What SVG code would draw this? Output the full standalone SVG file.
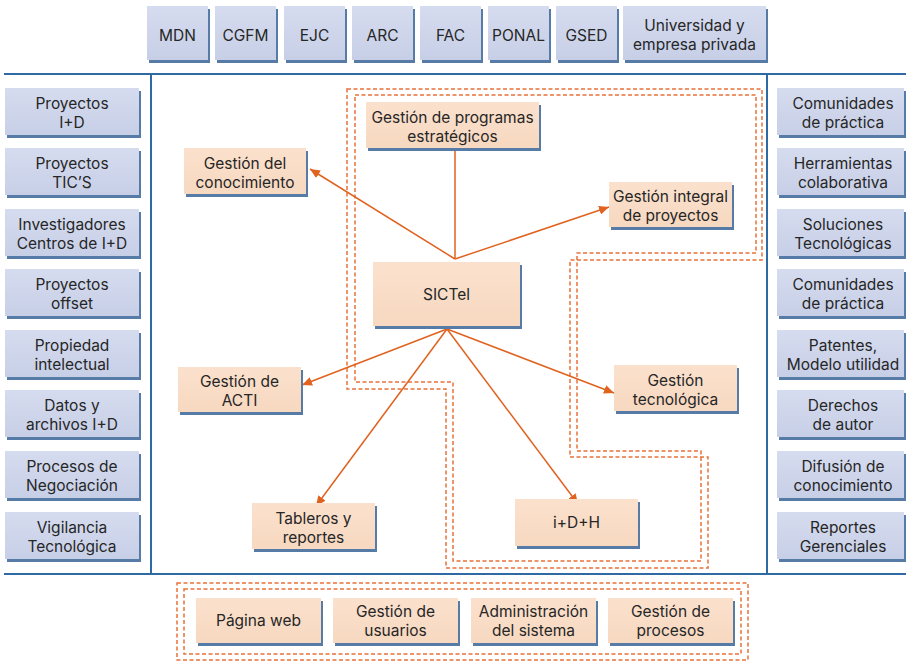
<svg xmlns="http://www.w3.org/2000/svg" width="906" height="661" viewBox="0 0 906 661">
  <defs>
    <linearGradient id="gBlue" x1="0" y1="0" x2="0" y2="1">
      <stop offset="0" stop-color="#d6dcef"/>
      <stop offset="1" stop-color="#c7cfe7"/>
    </linearGradient>
    <linearGradient id="gOrange" x1="0" y1="0" x2="0" y2="1">
      <stop offset="0" stop-color="#fbe1cd"/>
      <stop offset="1" stop-color="#f7d8c0"/>
    </linearGradient>
    <marker id="arrow" markerUnits="userSpaceOnUse" markerWidth="11" markerHeight="10" refX="10" refY="5" orient="auto">
      <path d="M0,0.5 L10,5 L0,9.5 Z" fill="#e0621f"/>
    </marker>
  </defs>
  <style>
    .shadow { fill: #557ba6; }
    .blue { fill: url(#gBlue); }
    .orange { fill: url(#gOrange); }
    text { font-family: Inter, Roboto, "Liberation Sans", sans-serif; font-size: 15.5px; fill: #262626; text-anchor: middle; }
    .frame { stroke: #2f6aa5; stroke-width: 2; fill: none; }
    .link { stroke: #e0621f; stroke-width: 1.5; fill: none; }
    .dash { stroke: #e8713a; stroke-width: 1.5; fill: none; stroke-dasharray: 4 2.5; }
  </style>

  <rect width="906" height="661" fill="#ffffff"/>

  <!-- frame lines -->
  <g id="frame">
    <line class="frame" x1="4" y1="74" x2="906" y2="74"/>
    <line class="frame" x1="4" y1="574" x2="906" y2="574"/>
    <line class="frame" x1="151" y1="74" x2="151" y2="574"/>
    <line class="frame" x1="767" y1="74" x2="767" y2="574"/>
  </g>

  <!-- dashed zones -->
  <g id="zones">
    <path class="dash" d="M347,89 H762 V260 H570 V457 H708 V568 H446 V389 H347 Z"/>
    <path class="dash" d="M355,95 H756 V253 H577 V451 H701 V561 H453 V382 H355 Z"/>
    <rect class="dash" x="177" y="583" width="571" height="77"/>
    <rect class="dash" x="184" y="589" width="557" height="65"/>
  </g>

  <!-- top row -->
  <g id="mdn"><rect class="shadow" x="149" y="9" width="61" height="54"/><rect class="blue" x="147" y="6" width="61" height="54"/><text x="177.5" y="41">MDN</text></g>
  <g id="cgfm"><rect class="shadow" x="217" y="9" width="61" height="54"/><rect class="blue" x="215" y="6" width="61" height="54"/><text x="245.5" y="41">CGFM</text></g>
  <g id="ejc"><rect class="shadow" x="286" y="9" width="61" height="54"/><rect class="blue" x="284" y="6" width="61" height="54"/><text x="314.5" y="41">EJC</text></g>
  <g id="arc"><rect class="shadow" x="354" y="9" width="61" height="54"/><rect class="blue" x="352" y="6" width="61" height="54"/><text x="382.5" y="41">ARC</text></g>
  <g id="fac"><rect class="shadow" x="422" y="9" width="61" height="54"/><rect class="blue" x="420" y="6" width="61" height="54"/><text x="450.5" y="41">FAC</text></g>
  <g id="ponal"><rect class="shadow" x="490" y="9" width="61" height="54"/><rect class="blue" x="488" y="6" width="61" height="54"/><text x="518.5" y="41">PONAL</text></g>
  <g id="gsed"><rect class="shadow" x="558" y="9" width="61" height="54"/><rect class="blue" x="556" y="6" width="61" height="54"/><text x="586.5" y="41">GSED</text></g>
  <g id="universidad"><rect class="shadow" x="625" y="9" width="143" height="54"/><rect class="blue" x="623" y="6" width="143" height="54"/><text x="694.5" y="31">Universidad y<tspan x="694.5" dy="19">empresa privada</tspan></text></g>

  <!-- left column -->
  <g id="proyectos-id"><rect class="shadow" x="7" y="91" width="134" height="47"/><rect class="blue" x="5" y="88" width="134" height="47"/><text x="72" y="109">Proyectos<tspan x="72" dy="19">I+D</tspan></text></g>
  <g id="proyectos-tics"><rect class="shadow" x="7" y="151" width="134" height="47"/><rect class="blue" x="5" y="148" width="134" height="47"/><text x="72" y="169">Proyectos<tspan x="72" dy="19">TIC’S</tspan></text></g>
  <g id="investigadores"><rect class="shadow" x="7" y="212" width="134" height="47"/><rect class="blue" x="5" y="209" width="134" height="47"/><text x="72" y="230">Investigadores<tspan x="72" dy="19">Centros de I+D</tspan></text></g>
  <g id="proyectos-offset"><rect class="shadow" x="7" y="272" width="134" height="47"/><rect class="blue" x="5" y="269" width="134" height="47"/><text x="72" y="290">Proyectos<tspan x="72" dy="19">offset</tspan></text></g>
  <g id="propiedad"><rect class="shadow" x="7" y="333" width="134" height="47"/><rect class="blue" x="5" y="330" width="134" height="47"/><text x="72" y="351">Propiedad<tspan x="72" dy="19">intelectual</tspan></text></g>
  <g id="datos"><rect class="shadow" x="7" y="393" width="134" height="47"/><rect class="blue" x="5" y="390" width="134" height="47"/><text x="72" y="411">Datos y<tspan x="72" dy="19">archivos I+D</tspan></text></g>
  <g id="procesos-negociacion"><rect class="shadow" x="7" y="454" width="134" height="47"/><rect class="blue" x="5" y="451" width="134" height="47"/><text x="72" y="472">Procesos de<tspan x="72" dy="19">Negociación</tspan></text></g>
  <g id="vigilancia"><rect class="shadow" x="7" y="515" width="134" height="47"/><rect class="blue" x="5" y="512" width="134" height="47"/><text x="72" y="533">Vigilancia<tspan x="72" dy="19">Tecnológica</tspan></text></g>

  <!-- right column -->
  <g id="comunidades-1"><rect class="shadow" x="779" y="91" width="127" height="47"/><rect class="blue" x="777" y="88" width="127" height="47"/><text x="843" y="109">Comunidades<tspan x="843" dy="19">de práctica</tspan></text></g>
  <g id="herramientas"><rect class="shadow" x="779" y="151" width="127" height="47"/><rect class="blue" x="777" y="148" width="127" height="47"/><text x="843" y="169">Herramientas<tspan x="843" dy="19">colaborativa</tspan></text></g>
  <g id="soluciones"><rect class="shadow" x="779" y="212" width="127" height="47"/><rect class="blue" x="777" y="209" width="127" height="47"/><text x="843" y="230">Soluciones<tspan x="843" dy="19">Tecnológicas</tspan></text></g>
  <g id="comunidades-2"><rect class="shadow" x="779" y="272" width="127" height="47"/><rect class="blue" x="777" y="269" width="127" height="47"/><text x="843" y="290">Comunidades<tspan x="843" dy="19">de práctica</tspan></text></g>
  <g id="patentes"><rect class="shadow" x="779" y="333" width="127" height="47"/><rect class="blue" x="777" y="330" width="127" height="47"/><text x="843" y="351">Patentes,<tspan x="843" dy="19">Modelo utilidad</tspan></text></g>
  <g id="derechos"><rect class="shadow" x="779" y="393" width="127" height="47"/><rect class="blue" x="777" y="390" width="127" height="47"/><text x="843" y="411">Derechos<tspan x="843" dy="19">de autor</tspan></text></g>
  <g id="difusion"><rect class="shadow" x="779" y="454" width="127" height="47"/><rect class="blue" x="777" y="451" width="127" height="47"/><text x="843" y="472">Difusión de<tspan x="843" dy="19">conocimiento</tspan></text></g>
  <g id="reportes"><rect class="shadow" x="779" y="515" width="127" height="47"/><rect class="blue" x="777" y="512" width="127" height="47"/><text x="843" y="533">Reportes<tspan x="843" dy="19">Gerenciales</tspan></text></g>

  <!-- connectors -->
  <g id="connectors">
    <line class="link" x1="455" y1="151" x2="455" y2="259"/>
    <line class="link" x1="455" y1="259" x2="310" y2="169" marker-end="url(#arrow)"/>
    <line class="link" x1="455" y1="259" x2="609" y2="207" marker-end="url(#arrow)"/>
    <line class="link" x1="447" y1="329" x2="302" y2="385" marker-end="url(#arrow)"/>
    <line class="link" x1="447" y1="329" x2="614" y2="393" marker-end="url(#arrow)"/>
    <line class="link" x1="447" y1="329" x2="578" y2="504" marker-end="url(#arrow)"/>
    <line class="link" x1="447" y1="329" x2="316" y2="506" marker-end="url(#arrow)"/>
  </g>

  <!-- central modules -->
  <g id="programas"><rect class="shadow" x="368" y="105" width="173" height="46"/><rect class="orange" x="366" y="102" width="173" height="46"/><text x="452.5" y="123">Gestión de programas<tspan x="452.5" dy="19">estratégicos</tspan></text></g>
  <g id="conocimiento"><rect class="shadow" x="186" y="151" width="122" height="46"/><rect class="orange" x="184" y="148" width="122" height="46"/><text x="245" y="169">Gestión del<tspan x="245" dy="19">conocimiento</tspan></text></g>
  <g id="integral"><rect class="shadow" x="611" y="185" width="123" height="45"/><rect class="orange" x="609" y="182" width="123" height="45"/><text x="670.5" y="202">Gestión integral<tspan x="670.5" dy="19">de proyectos</tspan></text></g>
  <g id="sictel"><rect class="shadow" x="375" y="265" width="147" height="64"/><rect class="orange" x="373" y="262" width="147" height="64"/><text x="446.5" y="299.5">SICTel</text></g>
  <g id="acti"><rect class="shadow" x="180" y="370" width="123" height="45"/><rect class="orange" x="178" y="367" width="123" height="45"/><text x="239.5" y="387">Gestión de<tspan x="239.5" dy="19">ACTI</tspan></text></g>
  <g id="tecnologica"><rect class="shadow" x="616" y="368" width="123" height="46"/><rect class="orange" x="614" y="365" width="123" height="46"/><text x="675.5" y="386">Gestión<tspan x="675.5" dy="19">tecnológica</tspan></text></g>
  <g id="idh"><rect class="shadow" x="517" y="502" width="123" height="47"/><rect class="orange" x="515" y="499" width="123" height="47"/><text x="576.5" y="528">i+D+H</text></g>
  <g id="tableros"><rect class="shadow" x="254" y="506" width="123" height="46"/><rect class="orange" x="252" y="503" width="123" height="46"/><text x="313.5" y="524">Tableros y<tspan x="313.5" dy="19">reportes</tspan></text></g>

  <!-- platform services -->
  <g id="pagina-web"><rect class="shadow" x="198" y="601" width="125" height="45"/><rect class="orange" x="196" y="598" width="125" height="45"/><text x="258.5" y="626">Página web</text></g>
  <g id="usuarios"><rect class="shadow" x="335" y="601" width="125" height="45"/><rect class="orange" x="333" y="598" width="125" height="45"/><text x="395.5" y="617">Gestión de<tspan x="395.5" dy="19">usuarios</tspan></text></g>
  <g id="administracion"><rect class="shadow" x="473" y="601" width="125" height="45"/><rect class="orange" x="471" y="598" width="125" height="45"/><text x="533.5" y="617">Administración<tspan x="533.5" dy="19">del sistema</tspan></text></g>
  <g id="gestion-procesos"><rect class="shadow" x="610" y="601" width="125" height="45"/><rect class="orange" x="608" y="598" width="125" height="45"/><text x="670.5" y="617">Gestión de<tspan x="670.5" dy="19">procesos</tspan></text></g>
</svg>
